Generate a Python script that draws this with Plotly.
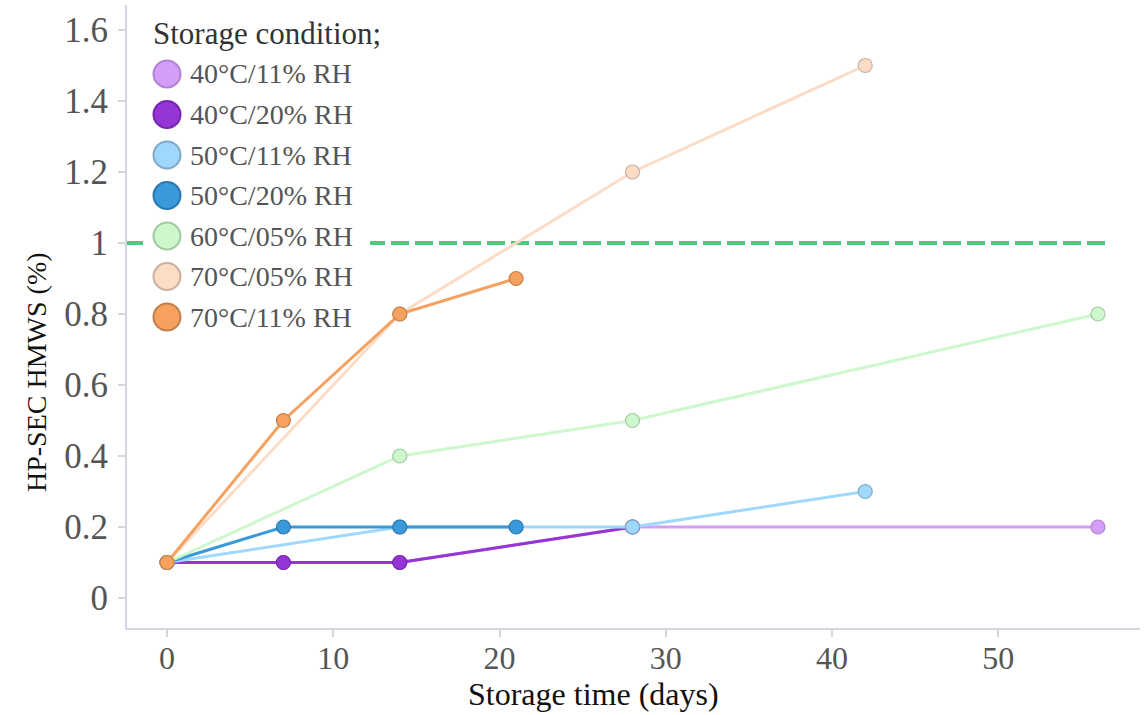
import plotly.graph_objects as go

# Storage stability: HMWS (%) measured by HP-SEC over storage time
conditions = ["40°C/11% RH", "40°C/20% RH", "50°C/11% RH", "50°C/20% RH",
              "60°C/05% RH", "70°C/05% RH", "70°C/11% RH"]

days_40_11 = [0, 7, 14, 28, 56]
hmws_40_11 = [0.1, 0.1, 0.1, 0.2, 0.2]

days_40_20 = [0, 7, 14, 28]
hmws_40_20 = [0.1, 0.1, 0.1, 0.2]

days_50_11 = [0, 14, 28, 42]
hmws_50_11 = [0.1, 0.2, 0.2, 0.3]

days_50_20 = [0, 7, 14, 21]
hmws_50_20 = [0.1, 0.2, 0.2, 0.2]

days_60_05 = [0, 14, 28, 56]
hmws_60_05 = [0.1, 0.4, 0.5, 0.8]

days_70_05 = [0, 14, 28, 42]
hmws_70_05 = [0.1, 0.8, 1.2, 1.5]

days_70_11 = [0, 7, 14, 21]
hmws_70_11 = [0.1, 0.5, 0.8, 0.9]

# specification limit
limit_days = [-2.41, 56.5]
limit_value = [1.0, 1.0]

x_ticks = [0, 10, 20, 30, 40, 50]
y_ticks = [0, 0.2, 0.4, 0.6, 0.8, 1.0, 1.2, 1.4, 1.6]

series = [
    (days_40_11, hmws_40_11, "#d49df7", "#b283d2"),
    (days_40_20, hmws_40_20, "#9535d6", "#7428ad"),
    (days_50_11, hmws_50_11, "#a0d8fc", "#7fa9cc"),
    (days_50_20, hmws_50_20, "#3a9ad9", "#2a78ad"),
    (days_60_05, hmws_60_05, "#cdf7cc", "#a3c9a2"),
    (days_70_05, hmws_70_05, "#fddcc6", "#c9b0a0"),
    (days_70_11, hmws_70_11, "#f6a15f", "#c2804a"),
]

SERIF = "Liberation Serif"

fig = go.Figure()

fig.add_trace(go.Scatter(
    x=limit_days, y=limit_value, mode="lines",
    line=dict(color="#4cc97f", width=4, dash="18px,6px"),
    showlegend=False, hoverinfo="skip",
))

for (xs, ys, fill, edge), name in zip(series, conditions):
    fig.add_trace(go.Scatter(
        x=xs, y=ys, name=name, mode="lines+markers",
        line=dict(color=fill, width=3),
        marker=dict(size=14, color=fill, line=dict(color=edge, width=1.2)),
        showlegend=False,
    ))

# plot area in pixels
L, R, T, B = 127, 1140, 5, 628
W, H = R - L, B - T


def px(x):
    return (x - L) / W


def py(y):
    return (B - y) / H


shapes = [dict(type="rect", xref="paper", yref="paper",
               x0=px(143), x1=px(370), y0=py(338), y1=py(12),
               fillcolor="white", line=dict(width=0), layer="above")]
annotations = [
    dict(text="Storage condition;", xref="paper", yref="paper",
         x=px(151), y=py(33), xanchor="left", yanchor="middle",
         showarrow=False, font=dict(family=SERIF, size=31, color="#333333")),
    dict(text="Storage time (days)", xref="paper", yref="paper",
         x=px(593), y=py(694), xanchor="center", yanchor="middle",
         showarrow=False, font=dict(family=SERIF, size=32, color="#111111")),
    dict(text="HP-SEC HMWS (%)", xref="paper", yref="paper", textangle=-90,
         x=px(37), y=py(372), xanchor="center", yanchor="middle",
         showarrow=False, font=dict(family=SERIF, size=28, color="#111111")),
]

row0, step = 74, 40.5
for i, ((_, _, fill, edge), name) in enumerate(zip(series, conditions)):
    cy = row0 + i * step
    shapes.append(dict(type="circle", xref="paper", yref="paper",
                       xsizemode="pixel", ysizemode="pixel",
                       xanchor=px(167), yanchor=py(cy),
                       x0=-13.5, x1=13.5, y0=-13.5, y1=13.5,
                       fillcolor=fill, line=dict(color=edge, width=2), layer="above"))
    annotations.append(dict(text=name, xref="paper", yref="paper",
                            x=px(188), y=py(cy), xanchor="left", yanchor="middle",
                            showarrow=False, font=dict(family=SERIF, size=28, color="#555555")))

axis_common = dict(
    showline=True, linecolor="#d3d6de", linewidth=2, mirror=False,
    showgrid=False, zeroline=False, automargin=False,
    ticks="outside", ticklen=7, tickwidth=1.5, tickcolor="#d3d6de",
)

fig.update_layout(
    width=1146, height=715,
    margin=dict(l=L, r=1146 - R, t=T, b=715 - B),
    paper_bgcolor="white", plot_bgcolor="white",
    showlegend=False,
    shapes=shapes, annotations=annotations,
    xaxis=dict(range=[-2.41, 58.53], tickvals=x_ticks,
               tickfont=dict(family=SERIF, size=32, color="#555555"),
               ticklabelstandoff=-6,
               **axis_common),
    yaxis=dict(range=[-0.0845, 1.6704], tickvals=y_ticks,
               ticktext=[f"{v:g}" for v in y_ticks],
               tickfont=dict(family=SERIF, size=35, color="#555555"),
               ticklabelstandoff=3,
               **axis_common),
)

fig.write_html("out.html")
